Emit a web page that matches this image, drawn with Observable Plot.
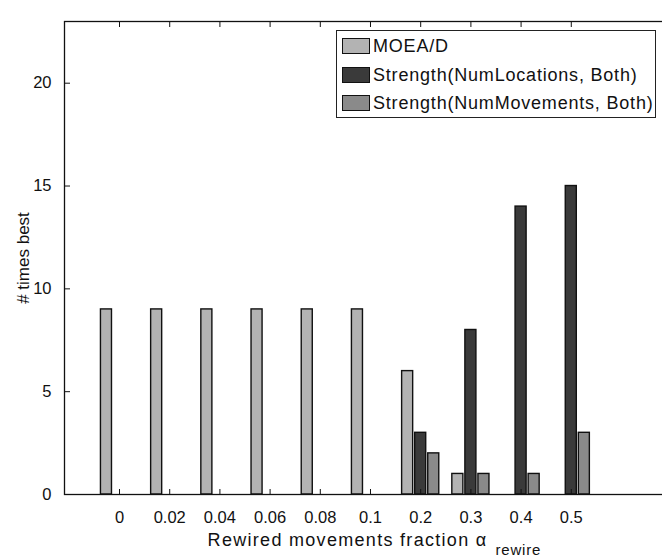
<!DOCTYPE html>
<html><head><meta charset="utf-8">
<script src="https://cdn.jsdelivr.net/npm/d3@7"></script>
<script src="https://cdn.jsdelivr.net/npm/@observablehq/plot@0.6"></script>
<style>
body{margin:0;background:#fff;}
#wrap{position:relative;width:662px;height:559px;overflow:hidden;font-family:"Liberation Sans",Arial,sans-serif;}
#legend{position:absolute;left:336px;top:30px;width:318px;height:86px;border:1px solid #222;background:#fff;}
.row{position:absolute;left:0;height:28px;display:flex;align-items:center;}
.sw{width:28px;height:16px;border:1px solid #111;margin-left:5px;margin-right:3px;box-sizing:border-box;}
.lab{font-size:18px;letter-spacing:0.8px;color:#111;white-space:nowrap;}
</style></head><body><div id="wrap"><div id="legend"></div></div>
<script>
const categories = ["0","0.02","0.04","0.06","0.08","0.1","0.2","0.3","0.4","0.5"];
const seriesNames = ["MOEA/D","Strength(NumLocations, Both)","Strength(NumMovements, Both)"];
const moead        = [9,9,9,9,9,9,6,1,0,0];
const numLocations = [0,0,0,0,0,0,3,8,14,15];
const numMovements = [0,0,0,0,0,0,2,1,1,3];
const yTicks = [0,5,10,15,20];
const xLabel = "Rewired movements fraction \u03b1";
const xLabelSub = "rewire";
const yLabel = "# times best";
const fills = ["#b3b3b3","#3a3a3a","#8a8a8a"];

const values = [moead, numLocations, numMovements];
const offsets = [-0.26, 0, 0.26];
const bw = 0.22;
const xIdx = categories.map((c,i)=>i+1);
const data = categories.flatMap((c,i)=>values.map((v,j)=>({i:i+1,j,series:seriesNames[j],value:v[i]}))).filter(d=>d.value>0);

const chart = Plot.plot({
  width:662, height:559,
  marginLeft:64, marginRight:-2, marginTop:21, marginBottom:65,
  x:{domain:[-0.096,11.857], axis:null, label:null},
  y:{domain:[0,23], axis:null, label:null},
  color:{domain:seriesNames, range:fills},
  style:{fontFamily:'"Liberation Sans",Arial,sans-serif', color:"#111", background:"white"},
  marks:[
    Plot.rectY(data,{x1:d=>d.i+offsets[d.j]-bw/2, x2:d=>d.i+offsets[d.j]+bw/2, y1:0, y2:"value", fill:"series", stroke:"#111", strokeWidth:1.4}),
    Plot.frame({stroke:"#111", strokeWidth:1.3}),
    Plot.axisX(xIdx,{anchor:"bottom", tickSize:-5, tickFormat:()=>""}),
    Plot.axisX(xIdx,{anchor:"top", tickSize:-5, tickFormat:()=>""}),
    Plot.axisX(xIdx,{anchor:"bottom", tickSize:0, tickPadding:17, tickFormat:i=>categories[i-1], fontSize:16.5}),
    Plot.axisY(yTicks,{anchor:"left", tickSize:-6, tickFormat:()=>""}),
    Plot.axisY(yTicks,{anchor:"left", tickSize:0, tickPadding:13, fontSize:16.5}),
    Plot.text([yLabel],{frameAnchor:"left", textAnchor:"middle", lineAnchor:"middle", dx:-41, rotate:-90, fontSize:17, text:d=>d}),
    Plot.text([xLabel],{frameAnchor:"bottom", textAnchor:"end", lineAnchor:"bottom", dx:123, dy:51, fontSize:18, text:d=>d}),
    Plot.text([xLabelSub],{frameAnchor:"bottom", textAnchor:"start", lineAnchor:"bottom", dx:131, dy:60, fontSize:15, text:d=>d})
  ]
});
d3.select(chart).selectAll("text").filter(function(){return this.textContent.startsWith("Rewired");}).style("letter-spacing","1.3px");
d3.select(chart).selectAll("text").filter(function(){return this.textContent === "rewire";}).style("letter-spacing","0.8px");
const wrap = document.getElementById("wrap");
wrap.insertBefore(chart, wrap.firstChild);
const legend = d3.select("#legend");
seriesNames.forEach((s,j)=>{
  const row = legend.append("div").attr("class","row").style("top",[1,30,58][j]+"px");
  row.append("div").attr("class","sw").style("background",fills[j]);
  row.append("div").attr("class","lab").text(s);
});
</script></body></html>
